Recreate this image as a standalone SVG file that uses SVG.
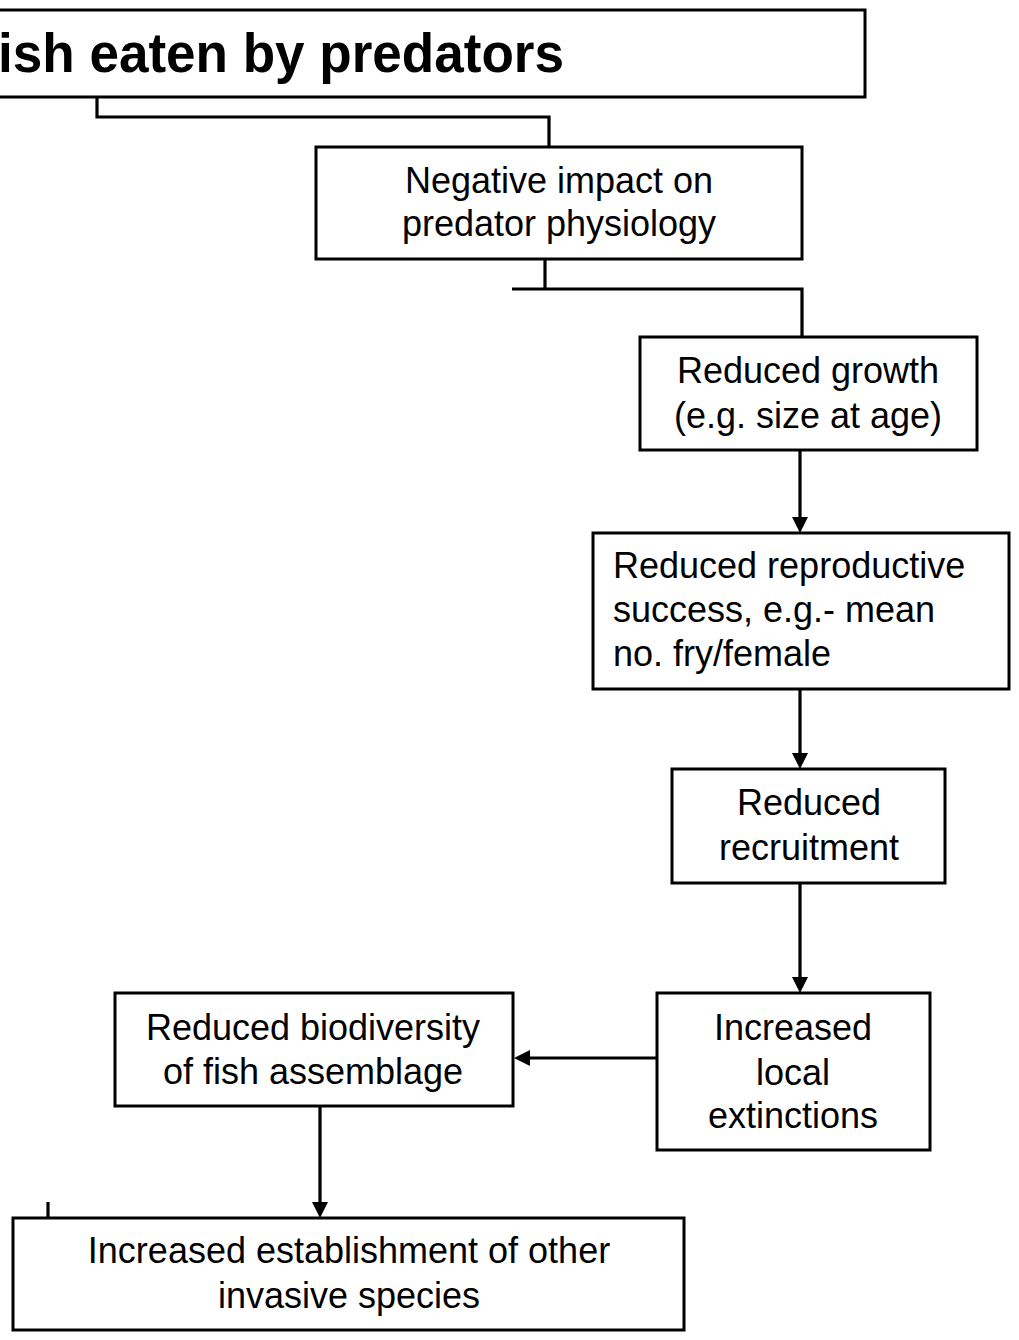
<svg xmlns="http://www.w3.org/2000/svg" width="1019" height="1340" viewBox="0 0 1019 1340">
<style>
.box{fill:#fff;stroke:#000;stroke-width:3}
.t{font-family:"Liberation Sans",Arial,sans-serif;font-size:36px;fill:#000}
.c{text-anchor:middle}
.ln{fill:none;stroke:#000;stroke-width:3.2}
.ah{fill:#000;stroke:none}
</style>
<defs>
<path id="down" d="M-8,-16 L8,-16 L0,0 z"/>
<path id="left" d="M16,-8 L16,8 L0,0 z"/>
</defs>
<rect width="1019" height="1340" fill="#fff"/>
<g id="connectors">
<polyline class="ln" points="97,97 97,117 549,117 549,148"/>
<polyline class="ln" points="545,259 545,289"/>
<polyline class="ln" points="512,289 802,289 802,337"/>
<line class="ln" x1="800" y1="450" x2="800" y2="520"/>
<use class="ah" href="#down" x="800" y="533"/>
<line class="ln" x1="800" y1="689" x2="800" y2="756"/>
<use class="ah" href="#down" x="800" y="769"/>
<line class="ln" x1="800" y1="883" x2="800" y2="980"/>
<use class="ah" href="#down" x="800" y="993"/>
<line class="ln" x1="657" y1="1058" x2="526" y2="1058"/>
<use class="ah" href="#left" x="514" y="1058"/>
<line class="ln" x1="320" y1="1106" x2="320" y2="1205"/>
<use class="ah" href="#down" x="320" y="1218"/>
<line class="ln" x1="48" y1="1202" x2="48" y2="1218"/>
</g>
<g id="n-title">
<rect class="box" x="-10" y="10" width="875" height="87"/>
<text class="t" x="-2" y="72" style="font-size:55px;font-weight:bold" textLength="566" lengthAdjust="spacingAndGlyphs">ish eaten by predators</text>
</g>
<g id="n-physiology">
<rect class="box" x="316" y="147" width="486" height="112"/>
<text class="t c" x="559" y="193">Negative impact on</text>
<text class="t c" x="559" y="236">predator physiology</text>
</g>
<g id="n-growth">
<rect class="box" x="640" y="337" width="337" height="113"/>
<text class="t c" x="808" y="383">Reduced growth</text>
<text class="t c" x="808" y="428">(e.g. size at age)</text>
</g>
<g id="n-reproductive">
<rect class="box" x="593" y="533" width="416" height="156"/>
<text class="t" x="613" y="578">Reduced reproductive</text>
<text class="t" x="613" y="622">success, e.g.- mean</text>
<text class="t" x="613" y="666">no. fry/female</text>
</g>
<g id="n-recruitment">
<rect class="box" x="672" y="769" width="273" height="114"/>
<text class="t c" x="809" y="815">Reduced</text>
<text class="t c" x="809" y="860">recruitment</text>
</g>
<g id="n-extinctions">
<rect class="box" x="657" y="993" width="273" height="157"/>
<text class="t c" x="793" y="1040">Increased</text>
<text class="t c" x="793" y="1085">local</text>
<text class="t c" x="793" y="1128">extinctions</text>
</g>
<g id="n-biodiversity">
<rect class="box" x="115" y="993" width="398" height="113"/>
<text class="t c" x="313" y="1040">Reduced biodiversity</text>
<text class="t c" x="313" y="1084">of fish assemblage</text>
</g>
<g id="n-invasive">
<rect class="box" x="13" y="1218" width="671" height="112"/>
<text class="t c" x="349" y="1263">Increased establishment of other</text>
<text class="t c" x="349" y="1308">invasive species</text>
</g>
</svg>
